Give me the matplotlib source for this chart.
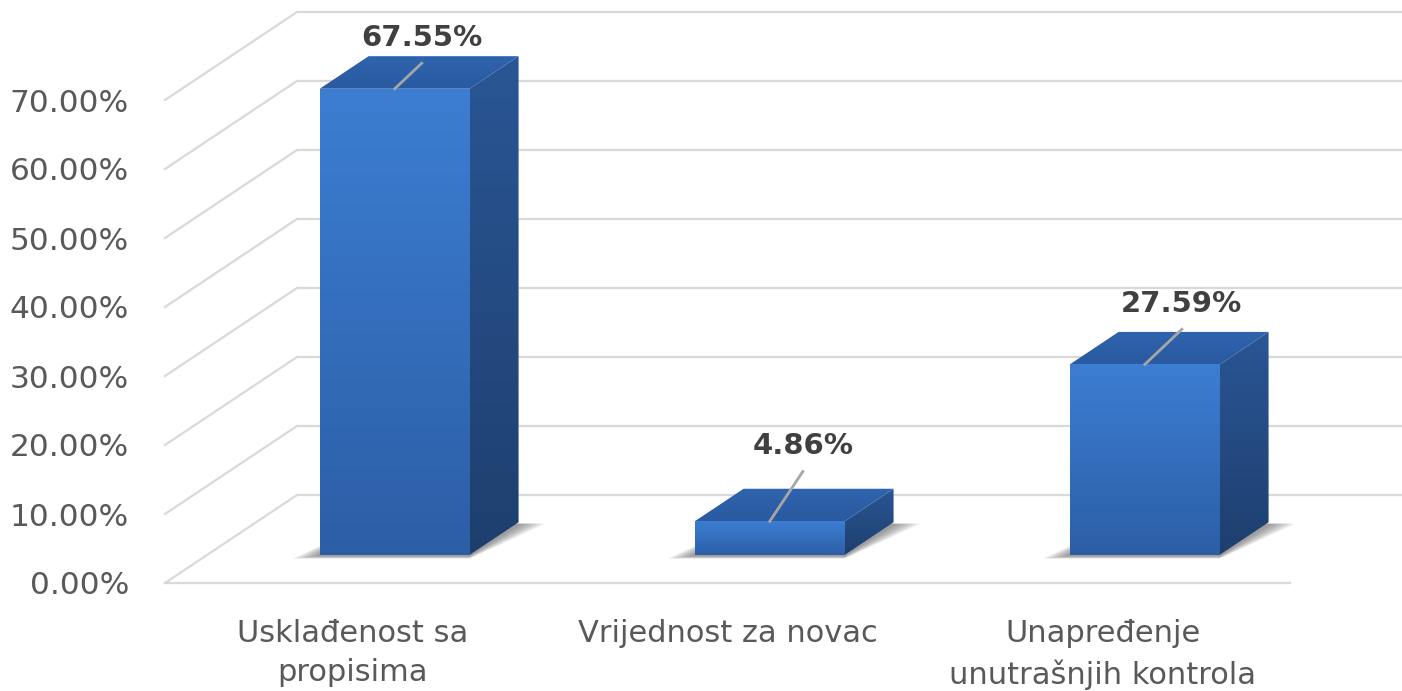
import matplotlib
matplotlib.use("Agg")
import matplotlib.pyplot as plt
import numpy as np
from matplotlib.patches import Polygon
from matplotlib.colors import LinearSegmentedColormap
from matplotlib.ticker import FuncFormatter, FixedLocator

# ---------------- data ----------------
categories = ["Usklađenost sa\npropisima", "Vrijednost za novac",
              "Unapređenje\nunutrašnjih kontrola"]
values = [67.55, 4.86, 27.59]
value_labels = ["67.55%", "4.86%", "27.59%"]
y_ticks = [0, 10, 20, 30, 40, 50, 60, 70]

# ---------------- layout / style ----------------
W, H = 1402, 691
PX_X = 375.0          # pixels per category unit
PX_Y = 6.9            # pixels per percent
X0_PX, Y0_PX = 165, 583
DX = 132 / PX_X       # depth offset (category units)
DY = 88 / PX_Y        # depth offset (percent units)
D0, D1 = 0.32, 0.69   # bar depth span (fraction of floor depth)
BAR_W = 0.4
label_offsets = [(0.072, 7.4), (0.088, 10.9), (0.099, 8.8)]
LEADER_GAP = 3.7
GRID_C = "#d9d9d9"
TEXT_C = "#595959"

fig = plt.figure(figsize=(W / 100, H / 100), dpi=100)
ax = fig.add_axes([0, 0, 1, 1])
ax.set_xlim(-X0_PX / PX_X, (W - X0_PX) / PX_X)
ax.set_ylim(-(H - Y0_PX) / PX_Y, Y0_PX / PX_Y)
for s in ["top", "right"]:
    ax.spines[s].set_visible(False)
ax.spines["left"].set_position(("data", 0))
ax.spines["bottom"].set_position(("data", 0))
ax.spines["left"].set_visible(False)
ax.spines["bottom"].set_visible(False)
ax.patch.set_visible(False)

# axes ticks
ax.yaxis.set_major_locator(FixedLocator(y_ticks))
ax.yaxis.set_major_formatter(FuncFormatter(lambda v, p: f"{v:.2f}%"))
ax.xaxis.set_major_locator(FixedLocator([i + 0.5 for i in range(len(categories))]))
ax.set_xticklabels(categories)
ax.tick_params(axis="y", length=0, pad=26, labelsize=22.5, labelcolor=TEXT_C)
ax.tick_params(axis="x", length=0, pad=26, labelsize=22, labelcolor=TEXT_C)
for t in ax.get_xticklabels():
    t.set_linespacing(1.45)

n = len(categories)
# walls / grid
for v in y_ticks:
    ax.plot([DX, n + DX + 0.3], [v + DY, v + DY], color=GRID_C, lw=1.6, zorder=1,
            solid_capstyle="butt")
    ax.plot([0, DX], [v, v + DY], color=GRID_C, lw=1.6, zorder=1)
ax.plot([0, n], [0, 0], color=GRID_C, lw=1.6, zorder=1)


def grad_face(xy, c_top, c_bot, z):
    xy = np.asarray(xy)
    patch = Polygon(xy, closed=True, facecolor="none", edgecolor="none", zorder=z)
    ax.add_patch(patch)
    cmap = LinearSegmentedColormap.from_list("g", [c_bot, c_top])
    grad = np.linspace(0, 1, 256).reshape(-1, 1)
    im = ax.imshow(grad, cmap=cmap, origin="lower", aspect="auto", zorder=z,
                   extent=[xy[:, 0].min(), xy[:, 0].max(), xy[:, 1].min(), xy[:, 1].max()],
                   interpolation="bilinear")
    im.set_clip_path(patch)


dd = D1 - D0
for i, v in enumerate(values):
    c = i + 0.5
    x0 = c - BAR_W / 2 + D0 * DX
    x1 = c + BAR_W / 2 + D0 * DX
    b = D0 * DY
    t = b + v
    ox, oy = dd * DX, dd * DY

    # soft shadow on the floor
    for k in range(1, 9):
        e = 0.009 * k
        sh = [(x0 - e, b - 0.15 - 0.05 * k), (x1, b - 0.15 - 0.05 * k),
              (x1 + ox + e, b + oy - 0.2), (x0 + ox, b + oy - 0.2)]
        ax.add_patch(Polygon(sh, closed=True, facecolor="#4d4d4d", edgecolor="none",
                             alpha=0.09, zorder=2))

    front = [(x0, b), (x1, b), (x1, t), (x0, t)]
    side = [(x1, b), (x1 + ox, b + oy), (x1 + ox, t + oy), (x1, t)]
    top = [(x0, t), (x1, t), (x1 + ox, t + oy), (x0 + ox, t + oy)]
    grad_face(front, "#3c7ed2", "#2c5ea6", 3)
    grad_face(side, "#2a5695", "#1e3f6e", 3)
    grad_face(top, "#2f64ae", "#2a5aa0", 3)

    # leader line and label
    lx, ly = c + D0 * DX + label_offsets[i][0], t + label_offsets[i][1]
    ax.plot([c + D0 * DX, lx], [t, ly - LEADER_GAP], color="#a6a6a6", lw=2, zorder=4)
    ax.text(lx, ly, value_labels[i], ha="center", va="center", fontsize=21,
            fontweight="bold", color="#404040", zorder=5)

ax.set_xlim(-X0_PX / PX_X, (W - X0_PX) / PX_X)
ax.set_ylim(-(H - Y0_PX) / PX_Y, Y0_PX / PX_Y)

fig.savefig("out.png", dpi=100, facecolor="white")
